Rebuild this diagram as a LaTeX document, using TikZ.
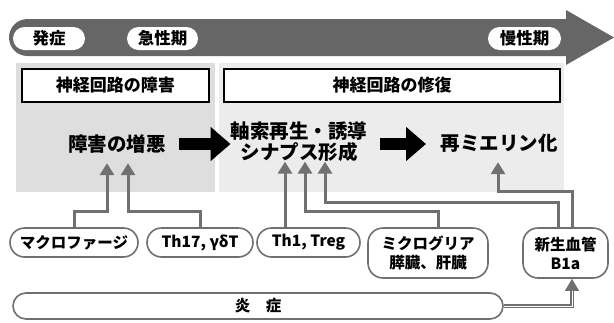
\documentclass[tikz,border=0pt]{standalone}
\usepackage{fontspec}
\setmainfont{Noto Sans CJK JP}
\usetikzlibrary{arrows.meta,shapes.misc}
\definecolor{timegray}{RGB}{102,102,102}
\definecolor{feedgray}{RGB}{112,112,112}
\definecolor{darkpanel}{RGB}{222,222,222}
\definecolor{lightpanel}{RGB}{236,236,236}
\tikzset{
  tagpill/.style={rounded rectangle, fill=white, minimum height=23pt, inner sep=0pt, font=\fontsize{16.5}{18}\selectfont\bfseries},
  header/.style={draw=black, line width=1.5pt, fill=white, minimum height=33pt, inner sep=0pt, font=\fontsize{17}{19}\selectfont\bfseries},
  maintext/.style={inner sep=0pt, minimum height=38pt, align=center, font=\fontsize{19.5}{21}\selectfont\bfseries},
  cellpill/.style={rounded rectangle, draw=feedgray, line width=1.6pt, fill=white, minimum height=29pt, inner sep=0pt, font=\fontsize{15.5}{18}\selectfont\bfseries},
  cellbox/.style={rectangle, rounded corners=15pt, draw=feedgray, line width=1.6pt, fill=white, minimum height=50pt, inner sep=0pt, align=center, font=\fontsize{15.5}{19}\selectfont\bfseries},
  blockarrow/.style={line width=12pt, -{Triangle[width=33pt,length=20pt]}},
  feed/.style={draw=feedgray, line width=3pt, -{Triangle[width=14pt,length=12pt]}},
}
\begin{document}
\begin{tikzpicture}[x=1pt,y=-1pt]
    \useasboundingbox (0,0) rectangle (614,322);
    % time line
    \fill[timegray, rounded corners=18.5pt] (9,19) rectangle (585,56);
    \fill[timegray] (566,10) -- (614,37.5) -- (566,65) -- cycle;
    \node[tagpill, minimum width=72pt] (onset) at (49,38.5) {発症};
    \node[tagpill, minimum width=71pt] (acute) at (162.5,38.5) {急性期};
    \node[tagpill, minimum width=73pt] (chronic) at (524.5,38.5) {慢性期};
    % panels
    \fill[darkpanel] (16,63) rectangle (215,192);
    \fill[lightpanel] (219,63) rectangle (564,192);
    \node[header, minimum width=187pt] (damagehead) at (115.5,85.5) {神経回路の障害};
    \node[header, minimum width=336pt] (repairhead) at (392,85.5) {神経回路の修復};
    \node[maintext] (worse) at (117,144) {障害の増悪};
    \node[maintext] (regen) at (299,141.5) {軸索再生・誘導\\シナプス形成};
    \node[maintext] (remyel) at (499,143) {再ミエリン化};
    \draw[blockarrow] ([xshift=13pt]worse.east) -- (180,144) -- (regen.west |- worse.east);
    \draw[blockarrow] (380,144) -- (426,144);
    % cells
    \node[cellpill, minimum width=128pt] (mac) at (74,242.5) {マクロファージ};
    \node[cellpill, minimum width=106pt] (th17) at (200,242.5) {Th17, γδT};
    \node[cellpill, minimum width=103pt] (th1) at (308.5,242.5) {Th1, Treg};
    \node[cellbox, minimum width=120pt] (micro) at (428,253) {ミクログリア\\膵臓、肝臓};
    \node[cellbox, minimum width=85pt] (vessel) at (565.5,253) {新生血管\\B1a};
    \node[cellpill, minimum width=490pt, minimum height=26pt] (inflam) at (258,306) {炎\hspace{1em}症};
    % feeds
    \coordinate (t1) at ([xshift=-14pt]regen.south);
    \draw[feed] (mac.north) -- ++(0,-16) -| ([xshift=-10pt]worse.south);
    \draw[feed] (th17.north) -- ++(0,-16) -| ([xshift=11pt]worse.south);
    \draw[feed] (t1 |- th1.north) -- (t1);
    \draw[feed] ([xshift=10pt]micro.north) -- ++(0,-16) -| ([xshift=6pt]regen.south);
    \draw[feed] ([xshift=-7.5pt]vessel.north) -- ++(0,-25) -| ([xshift=26pt]regen.south);
    \draw[feed] ([xshift=6.5pt]vessel.north) -- ++(0,-36) -| ([xshift=-1pt]remyel.south);
    \draw[feed, double=white, double distance=1pt, line width=1.2pt] (inflam.east) -| ([xshift=6.5pt]vessel.south);
\end{tikzpicture}
\end{document}
